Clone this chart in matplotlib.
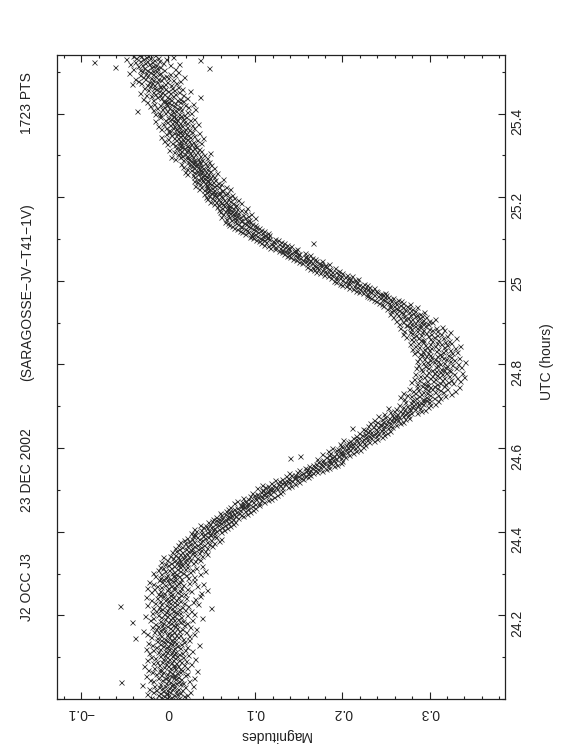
import numpy as np
import matplotlib
matplotlib.use("Agg")
import matplotlib.pyplot as plt
from matplotlib.ticker import MultipleLocator, FuncFormatter

plt.rcParams['font.family'] = ['Liberation Sans', 'DejaVu Sans']
plt.rcParams['font.size'] = 10

# ---- data -------------------------------------------------------------
title_parts = ["J2 OCC J3", "23 DEC 2002", "(SARAGOSSE\u2212JV\u2212T41\u22121V)", "1723 PTS"]
xlabel = "UTC (hours)"
ylabel = "Magnitudes"

utc_start = 24.0      # first sample (hours)
utc_end = 25.54       # last sample (hours)

# magnitudes in milli-magnitudes, in time order
mag_mmag = [
 -15, 8, -2, 12, -20, 3, -8, 18, -5, 0, 22, -12, 6, -25, 10, -3, 14, -9, 2, -18, 25, -6, 9, -1, -14, 16, 4, -22, 11, -7, 1, 19, -11, 7, -4, 28, -16, 3, -30, 13,
 5, -10, 17, -3, 9, -54, 2, -17, 12, 24, -7, 0, -21, 8, 15, -4, 30, -12, 6, -1, 11, -26, 3, 19, -8, 7, -14, 21, -2, 10, 4, -19, 13, -6, 33, -10, 1, 16, -23, 8,
 -9, 14, 2, -16, 22, 6, -5, 11, -28, 0, 18, -11, 7, 26, -3, -18, 9, 3, -7, 15, -13, 20, -1, 5, -24, 12, 31, -6, 1, -15, 8, -2, 17, -20, 4, 10, -9, 23, -4, 6,
 12, -7, 3, -22, 16, -1, 8, -12, 27, -4, -17, 5, 19, -9, 1, -26, 13, 7, -3, 21, -14, 0, 10, -6, 35, -19, 4, -10, 15, 2, -23, 9, -5, 18, -2, 6, -13, 24, -8, 3,
 -4, 17, -13, 6, -38, 11, 1, -20, 24, -8, 14, -2, 9, -25, 3, 29, -11, 0, 7, -16, 20, -5, 12, -29, 4, -9, 16, 32, -14, 2, -6, 10, -19, 25, -1, 8, -12, 5, 18, -7,
 9, -15, 3, 21, -6, 13, -42, 0, 17, -10, 6, -21, 27, 2, -4, 11, -17, 39, -8, 4, 15, -27, 7, -1, 22, -12, 1, 30, -5, 10, -19, 14, -3, 8, 26, -14, 5, -9, 19, -2,
 -7, 12, 4, -18, 49, 1, -11, 16, -55, 7, 23, -3, -24, 10, 34, -8, 2, 18, -15, 6, 28, -10, 0, 14, -20, 9, -4, 31, 3, -13, 20, -1, 11, -26, 5, 36, -6, 15, -9, 2,
 4, -12, 19, 38, -5, 10, -20, 2, 26, -9, 13, 44, -2, 7, -16, 21, 0, -25, 15, 6, -8, 33, 3, -13, 17, -4, 9, 40, -18, 11, 1, 24, -7, 14, -22, 5, 29, -1, 8, -11,
 -6, 15, 2, 23, -10, 8, 30, -3, 12, -15, 5, 20, -1, 36, 9, -8, 17, 4, -17, 25, 7, 42, -4, 13, 1, 27, -12, 10, 19, 3, -6, 32, 14, -9, 22, 6, 39, 0, 16, 11,
 -4, 15, 22, 3, 28, 10, -8, 19, 31, 6, 14, -2, 25, 36, 12, 20, 5, 33, 17, -6, 24, 11, 39, 2, 18, 29, 8, 44, 21, 13, 35, 27, 4, 30, 16, 42, 23, 9, 37, 26,
 12, 34, 20, 45, 27, 8, 38, 16, 50, 29, 22, 41, 11, 33, 47, 25, 19, 53, 36, 14, 44, 30, 58, 24, 39, 18, 49, 35, 27, 61, 42, 21, 46, 33, 55, 28, 40, 52, 31, 48,
 30, 48, 41, 26, 53, 37, 60, 44, 32, 55, 47, 64, 38, 51, 29, 58, 45, 67, 52, 40, 62, 49, 71, 43, 57, 36, 65, 54, 74, 48, 60, 69, 46, 77, 58, 63, 50, 72, 66, 55,
 58, 74, 51, 67, 80, 62, 71, 55, 86, 69, 77, 60, 83, 72, 65, 90, 76, 59, 81, 70, 94, 78, 66, 88, 73, 97, 82, 75, 68, 92, 85, 100, 79, 87, 71, 96, 84, 90, 104, 86,
 83, 99, 90, 76, 104, 92, 85, 110, 97, 88, 79, 106, 95, 114, 101, 91, 118, 99, 86, 108, 103, 121, 94, 112, 106, 98, 125, 109, 102, 117, 111, 96, 128, 113, 106, 120, 115, 131, 108, 118,
 109, 125, 116, 102, 130, 119, 111, 137, 124, 115, 141, 128, 120, 108, 134, 126, 145, 131, 118, 139, 133, 150, 127, 142, 136, 122, 148, 139, 155, 131, 144, 152, 138, 160, 146, 135, 157, 149, 141, 163,
 146, 160, 152, 139, 166, 155, 171, 148, 162, 158, 176, 163, 150, 169, 181, 159, 172, 165, 185, 157, 174, 168, 190, 161, 178, 183, 166, 194, 175, 170, 187, 179, 198, 172, 185, 191, 177, 200, 184, 189,
 178, 192, 185, 171, 198, 140, 188, 203, 181, 195, 151, 190, 207, 184, 198, 176, 201, 193, 212, 186, 205, 197, 183, 215, 199, 192, 209, 220, 195, 204, 188, 214, 206, 223, 200, 211, 217, 198, 226, 208,
 204, 219, 211, 197, 225, 213, 206, 231, 218, 209, 236, 222, 201, 228, 215, 240, 224, 212, 233, 219, 245, 227, 216, 238, 230, 222, 248, 234, 226, 241, 219, 251, 237, 229, 246, 233, 255, 240, 226, 244,
 231, 246, 238, 224, 252, 211, 241, 257, 235, 248, 229, 255, 244, 262, 237, 250, 243, 266, 232, 254, 247, 269, 240, 259, 251, 236, 264, 256, 272, 245, 260, 253, 276, 249, 265, 258, 241, 270, 262, 275,
 257, 272, 263, 248, 279, 268, 285, 254, 274, 266, 290, 259, 277, 271, 295, 262, 283, 276, 252, 289, 280, 298, 269, 286, 274, 301, 281, 265, 293, 287, 306, 279, 290, 272, 299, 285, 310, 292, 281, 296,
 280, 299, 271, 292, 312, 284, 305, 266, 296, 288, 318, 279, 301, 274, 310, 290, 325, 283, 297, 270, 315, 293, 306, 281, 329, 298, 287, 312, 276, 303, 320, 295, 308, 285, 334, 300, 291, 316, 305, 298,
 296, 318, 285, 309, 327, 292, 312, 279, 321, 304, 335, 297, 314, 288, 325, 306, 282, 317, 300, 331, 294, 311, 340, 303, 289, 322, 308, 296, 328, 314, 283, 319, 305, 337, 298, 312, 291, 324, 307, 316,
 303, 322, 290, 313, 330, 298, 284, 318, 307, 336, 295, 320, 309, 287, 326, 312, 299, 333, 292, 316, 305, 341, 297, 323, 286, 310, 328, 301, 294, 319, 306, 334, 288, 315, 302, 325, 296, 313, 308, 291,
 300, 321, 289, 312, 282, 326, 298, 315, 293, 331, 307, 285, 318, 299, 324, 280, 310, 294, 329, 302, 288, 316, 297, 335, 283, 306, 320, 295, 278, 313, 301, 325, 287, 309, 292, 318, 281, 303, 322, 290,
 292, 310, 279, 301, 330, 287, 315, 281, 305, 273, 298, 320, 284, 308, 290, 269, 302, 313, 280, 296, 324, 277, 291, 309, 285, 271, 303, 293, 317, 279, 299, 286, 266, 307, 289, 277, 314, 283, 295, 274,
 289, 273, 298, 279, 265, 294, 283, 303, 270, 290, 277, 299, 261, 285, 293, 272, 306, 280, 266, 288, 275, 296, 258, 283, 271, 291, 264, 285, 277, 254, 289, 269, 281, 262, 294, 267, 276, 256, 283, 265,
 272, 258, 280, 263, 251, 276, 262, 285, 254, 270, 259, 274, 247, 266, 255, 277, 245, 262, 253, 270, 242, 260, 251, 267, 239, 256, 248, 264, 236, 254, 246, 233, 258, 243, 252, 230, 249, 241, 228, 247,
 250, 236, 245, 228, 243, 224, 249, 233, 219, 240, 230, 215, 238, 225, 234, 212, 229, 220, 236, 207, 226, 217, 231, 204, 222, 213, 228, 200, 219, 208, 225, 197, 215, 206, 193, 217, 203, 211, 190, 208,
 214, 200, 209, 193, 218, 197, 206, 187, 203, 192, 211, 183, 198, 188, 205, 179, 195, 186, 174, 199, 181, 192, 170, 188, 180, 196, 167, 186, 176, 163, 185, 172, 191, 166, 181, 171, 159, 180, 168, 175,
 180, 167, 175, 159, 184, 165, 154, 173, 162, 150, 170, 158, 177, 147, 163, 155, 169, 143, 159, 151, 165, 140, 157, 148, 136, 158, 145, 163, 139, 150, 133, 149, 141, 157, 130, 146, 137, 127, 144, 134,
 145, 131, 139, 122, 148, 128, 137, 117, 134, 123, 141, 114, 130, 120, 136, 110, 127, 118, 133, 107, 166, 121, 112, 129, 104, 120, 110, 126, 101, 116, 108, 123, 97, 113, 105, 94, 115, 102, 109, 96,
 111, 95, 116, 99, 88, 108, 96, 114, 85, 103, 92, 110, 82, 100, 90, 107, 79, 97, 88, 104, 76, 94, 84, 101, 73, 91, 83, 99, 70, 89, 80, 96, 68, 87, 78, 94, 65, 84, 77, 90,
 84, 72, 93, 78, 66, 88, 75, 99, 70, 82, 61, 79, 91, 68, 76, 86, 63, 74, 95, 71, 80, 59, 77, 69, 88, 65, 73, 83, 58, 70, 79, 67, 90, 62, 74, 68, 56, 77, 64, 71,
 69, 57, 78, 63, 52, 74, 60, 84, 55, 66, 48, 71, 59, 80, 53, 64, 45, 68, 57, 75, 50, 62, 43, 70, 55, 61, 47, 73, 52, 58, 41, 65, 54, 49, 67, 44, 58, 51, 62, 46,
 53, 41, 62, 47, 35, 71, 50, 44, 58, 38, 66, 45, 52, 31, 55, 43, 49, 60, 36, 47, 42, 57, 33, 51, 40, 46, 29, 54, 39, 44, 63, 34, 48, 41, 37, 52, 30, 45, 39, 43,
 41, 28, 50, 34, 22, 46, 37, 56, 30, 43, 19, 39, 33, 48, 26, 36, 44, 21, 35, 52, 29, 40, 17, 34, 45, 27, 38, 31, 49, 24, 33, 15, 42, 28, 36, 23, 47, 30, 26, 35,
 30, 17, 39, 24, 8, 34, 21, 45, 14, 28, 3, 36, 22, 16, 41, 26, 11, 31, 19, 48, 13, 25, 6, 33, 20, 38, 15, 27, 1, 23, 35, 12, 29, 18, 9, 32, 16, 24, 21, 14,
 22, 8, 31, 15, -2, 26, 12, 37, 4, 19, 28, -5, 14, 24, 9, 33, 17, 0, 21, 11, 40, 6, 18, -8, 25, 13, 30, 3, 16, 23, -3, 20, 10, 35, 7, 14, 27, 1, 18, 11,
 15, 1, 24, 9, -8, 19, 5, 30, -3, 12, 21, 7, -12, 16, 27, 2, 11, 34, -6, 14, 4, 22, -1, 9, 18, -15, 6, 25, 10, -4, 17, 3, 29, 0, 8, 20, -9, 12, 5, 15,
 7, -9, 18, 2, -15, 12, -4, 26, -11, 5, 21, -36, 9, -2, 15, -18, 4, 31, -7, 10, -13, 1, 23, -5, 14, -21, 6, -1, 19, -10, 3, 28, -16, 8, -3, 13, -24, 0, 17, -6,
 -4, 10, -17, 3, -29, 14, -8, 1, 22, -13, -2, 36, -20, 5, -10, 17, -26, -5, 8, -15, 2, -33, 12, -7, -18, 25, -11, 0, -23, 7, -14, 16, -4, -28, 4, -16, 11, -9, -21, -6,
 -10, -25, 3, -16, -42, -4, -19, 9, -31, -13, -1, -22, 14, -35, -8, -17, 5, -27, -12, -38, 0, -20, -6, 18, -29, -15, -3, -24, 8, -33, -11, -18, 2, -45, -9, -26, 11, -21, -14, -30,
 -17, -32, -5, -24, 8, -40, -13, -28, 47, -20, -61, -9, -35, -18, 2, -30, -14, -44, -22, 12, -27, -6, -38, -19, -85, -11, -33, -25, 36, -16, -48, -29, -3, -21, -37, -12, -26, 5, -41, -23, -31, -15, -34,
]

mag_ticks = [-0.1, 0.0, 0.1, 0.2, 0.3]
utc_ticks = [24.2, 24.4, 24.6, 24.8, 25.0, 25.2, 25.4]

mag = np.array(mag_mmag) / 1000.0
utc = np.linspace(utc_start, utc_end, len(mag))

# ---- figure -----------------------------------------------------------
W, H = 562, 756
fig = plt.figure(figsize=(W / 100, H / 100), dpi=100)
ax = fig.add_axes([57 / W, 1 - 699 / H, (505 - 57) / W, (699 - 55) / H])

ax.plot(mag, utc, linestyle='none', marker='x', markersize=3.6,
        markeredgewidth=0.55, color='#2a2a2a')

ax.set_xlim(-0.1278, 0.3866)
ax.set_ylim(24.0, 25.54)

ax.xaxis.set_major_locator(plt.FixedLocator(mag_ticks))
ax.xaxis.set_minor_locator(MultipleLocator(0.02))
ax.yaxis.set_major_locator(plt.FixedLocator(utc_ticks))
ax.yaxis.set_minor_locator(MultipleLocator(0.1))


def fmt_mag(v, pos):
    if abs(v) < 1e-9:
        return "0"
    return f"{v:.1f}".replace("-", "\u2212")


def fmt_utc(v, pos):
    if abs(v - round(v)) < 1e-9:
        return f"{int(round(v))}"
    return f"{v:.1f}"


ax.xaxis.set_major_formatter(FuncFormatter(fmt_mag))
ax.yaxis.set_major_formatter(FuncFormatter(fmt_utc))

for s in ax.spines.values():
    s.set_linewidth(0.9)
    s.set_color('#222222')

ax.tick_params(which='both', direction='in', top=True, bottom=True,
               left=True, right=True, labelleft=False, labelright=True,
               labeltop=False, labelbottom=True, color='#222222', width=0.8,
               labelcolor='#222222')
ax.tick_params(which='major', length=5)
ax.tick_params(which='minor', length=2.5)
ax.tick_params(axis='y', labelrotation=90, pad=4, labelsize=10)
ax.tick_params(axis='x', labelrotation=180, pad=5, labelsize=10)

# rotated titles along left side
title_y = [587, 470, 292, 103]
for txt, yp in zip(title_parts, title_y):
    fig.text(27 / W, 1 - yp / H, txt, rotation=90, ha='center', va='center',
             fontsize=10, color='#222222')

fig.text(547 / W, 1 - 362 / H, xlabel, rotation=90, ha='center', va='center',
         fontsize=10, color='#222222')
fig.text(275 / W, 1 - 735 / H, ylabel, rotation=180, ha='center', va='center',
         fontsize=10, color='#222222')

fig.savefig("out.png", dpi=100)
